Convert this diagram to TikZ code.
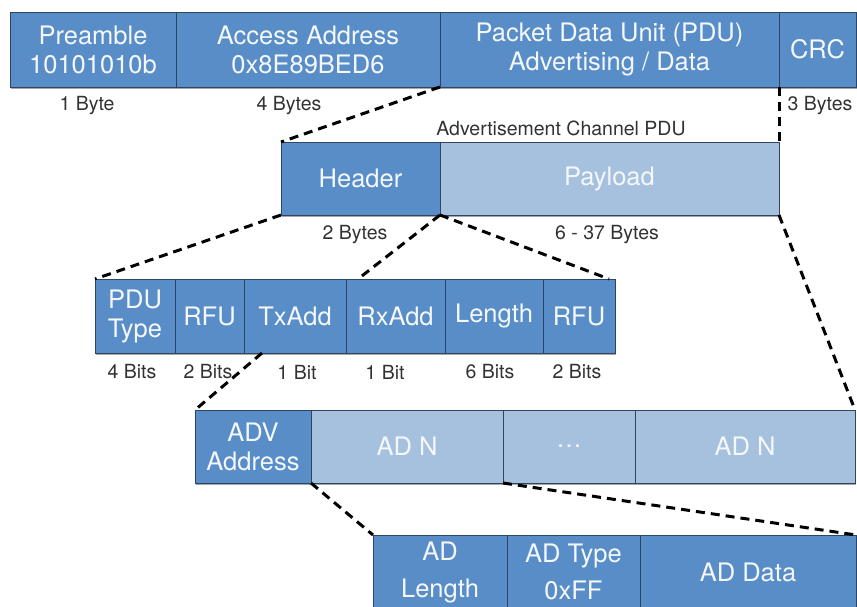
\documentclass[tikz,border=0pt]{standalone}
\usepackage{fontspec}
\setmainfont{TeX Gyre Heros}
\usetikzlibrary{calc,shadows}
\definecolor{dblue}{RGB}{88,141,199}
\definecolor{lblue}{RGB}{166,193,222}
\definecolor{edgec}{RGB}{45,68,98}
\definecolor{labc}{RGB}{50,50,50}
\definecolor{txtc}{RGB}{244,247,251}
\begin{document}
\begin{tikzpicture}[x=1pt,y=-1pt,
  cell/.style={draw=edgec,line width=0.8pt,inner sep=0pt,outer sep=0pt,
    text=txtc,align=center,font=\fontsize{25.5}{29}\selectfont,
    drop shadow={shadow xshift=0.6pt,shadow yshift=-2.2pt,opacity=0.35,fill=black}},
  dcell/.style={cell,fill=dblue},
  lcell/.style={cell,fill=lblue},
  lab/.style={text=labc,inner sep=0pt,font=\fontsize{19.5}{22}\selectfont},
  link/.style={draw=black,line width=3pt,dash pattern=on 9pt off 6pt}]
\path[use as bounding box] (0,0) rectangle (857,607);

% Row 1
\node[dcell,minimum width=166pt,minimum height=75pt] (pre) at (93,49.5) {Preamble\\10101010b};
\node[dcell,minimum width=264pt,minimum height=75pt] (aa) at (308,49.5) {Access Address\\0x8E89BED6};
\node[dcell,minimum width=339pt,minimum height=75pt] (pdu) at (609.5,49.5) {Packet Data Unit (PDU)\\Advertising / Data};
\node[dcell,minimum width=77pt,minimum height=75pt] (crc) at (817.5,49.5) {CRC};
\node[lab] (l1) at (87,106) {1 Byte};
\node[lab] (l2) at (289,106) {4 Bytes};
\node[lab] (l3) at (820,106) {3 Bytes};

% Row 2
\node[lab] (title) at (561,128) {Advertisement Channel PDU};
\node[dcell,minimum width=159pt,minimum height=73pt] (hdr) at (360.5,178.5) {Header};
\node[lcell,minimum width=339pt,minimum height=73pt] (pay) at (609.5,178.5) {Payload};
\node[lab] (l4) at (355,235) {2 Bytes};
\node[lab] (l5) at (607,235) {6 - 37 Bytes};

% Row 3
\node[dcell,minimum width=80pt,minimum height=74pt] (pdut) at (135,316) {PDU\\Type};
\node[dcell,minimum width=69pt,minimum height=74pt] (rfua) at (209.5,316) {RFU};
\node[dcell,minimum width=102pt,minimum height=74pt] (tx) at (295,316) {TxAdd};
\node[dcell,minimum width=99pt,minimum height=74pt] (rx) at (395.5,316) {RxAdd};
\node[dcell,minimum width=98pt,minimum height=74pt] (len) at (494,316) {Length};
\node[dcell,minimum width=72pt,minimum height=74pt] (rfub) at (579,316) {RFU};
\node[lab] (b1) at (132,372) {4 Bits};
\node[lab] (b2) at (208,372) {2 Bits};
\node[lab] (b3) at (297,372) {1 Bit};
\node[lab] (b4) at (385,372) {1 Bit};
\node[lab] (b5) at (490,372) {6 Bits};
\node[lab] (b6) at (577,372) {2 Bits};

% Row 4
\node[dcell,minimum width=116pt,minimum height=73pt] (adv) at (253,446.5) {ADV\\Address};
\node[lcell,minimum width=192pt,minimum height=73pt] (adna) at (407,446.5) {AD N};
\node[lcell,minimum width=132pt,minimum height=73pt] (dots) at (569,446.5) {\dots};
\node[lcell,minimum width=220pt,minimum height=73pt] (adnb) at (745,446.5) {AD N};

% Row 5
\node[dcell,minimum width=134pt,minimum height=74pt,font=\fontsize{25.5}{37}\selectfont] (adl) at (440,572) {AD\\Length};
\node[dcell,minimum width=133pt,minimum height=74pt,font=\fontsize{25.5}{37}\selectfont] (adt) at (573.5,572) {AD Type\\0xFF};
\node[dcell,minimum width=216pt,minimum height=74pt] (add) at (748,572) {AD Data};

% Connectors
\draw[link] (aa.south east) -- (hdr.north west);
\draw[link] (crc.south west) -- (pay.north east);
\draw[link] (hdr.south west) -- (pdut.north west);
\draw[link] (hdr.south east) -- ($(rx.north west)+(12,0)$);
\draw[link] (hdr.south east) -- ($(rfub.north east)+(-6,0)$);
\draw[link] (pay.south east) -- (adnb.north east);
\draw[link] ($(tx.south west)+(18,0)$) -- (adv.north west);
\draw[link] (adv.south east) -- (adl.north west);
\draw[link] (dots.south west) -- (add.north east);
\end{tikzpicture}
\end{document}
